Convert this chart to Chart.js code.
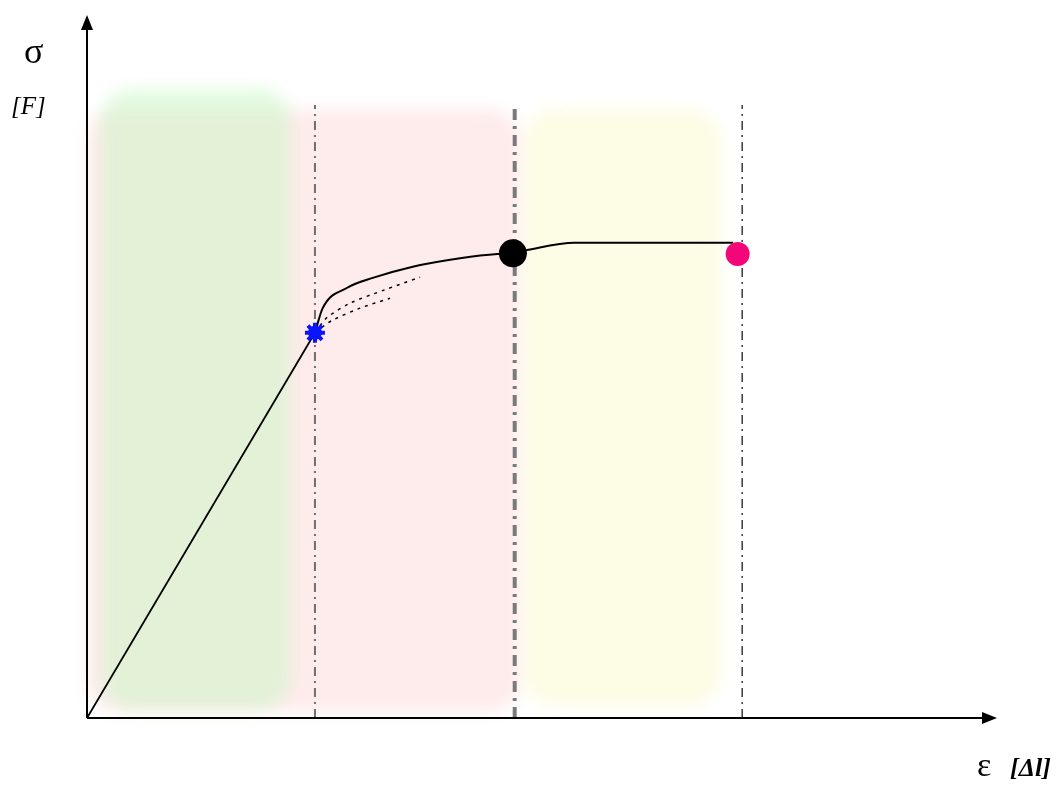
<!DOCTYPE html>
<html lang="en">
<head>
    <meta charset="UTF-8">
    <title>Stress-strain diagram</title>
    <style>
        body { margin: 0; background: #fff; }
        #wrap { width: 1059px; height: 785px; }
    </style>
    <script src="https://cdn.jsdelivr.net/npm/chart.js"></script>
</head>
<body>
    <div id="wrap"><canvas id="ssChart" width="1059" height="785"></canvas></div>

    <script>
        // Axis units: 0..100 on both axes (no ticks shown in the picture)
        const elasticX = [0, 25.05];
        const elasticY = [0, 54.8];

        const plasticX = [25.05, 25.9, 28.6, 31.4, 35.8, 41.0, 45.1, 46.8, 48.5, 53.6, 71.0];
        const plasticY = [54.8, 58.3, 61.2, 62.6, 64.2, 65.4, 66.0, 66.1, 66.6, 67.6, 67.6];

        const dotted1X = [25.6, 26.4, 28.9, 32.7, 36.6];
        const dotted1Y = [55.8, 57.0, 59.0, 60.9, 62.7];
        const dotted2X = [25.8, 27.0, 30.0, 33.3];
        const dotted2Y = [55.6, 56.6, 58.3, 59.7];

        // markers: yield, ultimate, fracture
        const yieldPt = { x: 25.05, y: 54.8 };
        const ultimatePt = { x: 46.8, y: 66.1 };
        const fracturePt = { x: 71.5, y: 66.0 };

        // vertical boundaries between zones
        const boundX = [25.05, 47.0, 72.0];
        const boundTop = 87.2;

        // stippled background zones [x0, x1, y0, y1]
        const zonePink = [0, 47.6, 1.0, 86.5];
        const zoneGreen = [1.6, 22.3, 1.2, 89.5];
        const zoneYellow = [48.1, 69.6, 1.8, 86.5];

        const toPts = (xs, ys) => xs.map((x, i) => ({ x: x, y: ys[i] }));

        const zonesPlugin = {
            id: 'zones',
            beforeDatasetsDraw(chart) {
                const { ctx, scales: { x, y } } = chart;
                const zones = [
                    [zonePink, 'rgba(252, 210, 210, 0.45)'],
                    [zoneGreen, 'rgba(200, 248, 195, 0.5)'],
                    [zoneYellow, 'rgba(252, 250, 205, 0.55)']
                ];
                ctx.save();
                ctx.filter = 'blur(8px)';
                zones.forEach(([z, c]) => {
                    const px0 = x.getPixelForValue(z[0]);
                    const px1 = x.getPixelForValue(z[1]);
                    const py0 = y.getPixelForValue(z[3]);
                    const py1 = y.getPixelForValue(z[2]);
                    ctx.fillStyle = c;
                    ctx.beginPath();
                    ctx.roundRect(px0, py0, px1 - px0, py1 - py0, 30);
                    ctx.fill();
                });
                ctx.restore();
            }
        };

        const axesPlugin = {
            id: 'arrowAxes',
            afterDatasetsDraw(chart) {
                const { ctx, scales: { x, y } } = chart;
                const ox = x.getPixelForValue(0), oy = y.getPixelForValue(0);
                const xe = x.getPixelForValue(100), ye = y.getPixelForValue(100);
                ctx.save();
                ctx.strokeStyle = '#000';
                ctx.fillStyle = '#000';
                ctx.lineWidth = 2;
                ctx.beginPath();
                ctx.moveTo(ox, oy); ctx.lineTo(xe - 6, oy);
                ctx.moveTo(ox, oy); ctx.lineTo(ox, ye + 6);
                ctx.stroke();
                // arrow heads
                ctx.beginPath();
                ctx.moveTo(xe, oy); ctx.lineTo(xe - 15, oy - 6); ctx.lineTo(xe - 15, oy + 6); ctx.closePath();
                ctx.fill();
                ctx.beginPath();
                ctx.moveTo(ox, ye); ctx.lineTo(ox - 6, ye + 15); ctx.lineTo(ox + 6, ye + 15); ctx.closePath();
                ctx.fill();
                // axis symbols
                ctx.textBaseline = 'alphabetic';
                ctx.font = '36px "Liberation Serif"';
                ctx.fillText('σ', 24, 63);
                ctx.font = 'italic 25px "Liberation Serif"';
                ctx.fillText('[F]', 11, 114);
                ctx.font = '34px "Liberation Serif"';
                ctx.fillText('ε', 977, 776);
                ctx.font = 'italic bold 26px "Liberation Serif"';
                ctx.fillText('[Δl]', 1010, 776);
                ctx.restore();
            }
        };

        const vline = (xv, color, width, dash) => ({
            data: [{ x: xv, y: 0 }, { x: xv, y: boundTop }],
            showLine: true,
            borderColor: color,
            borderWidth: width,
            borderDash: dash,
            pointRadius: 0
        });

        // datasets listed first are painted on top
        const ctx = document.getElementById('ssChart').getContext('2d');
        new Chart(ctx, {
            type: 'scatter',
            data: {
                datasets: [
                    {
                        data: [ultimatePt],
                        pointStyle: 'circle', pointRadius: 14, borderWidth: 0, backgroundColor: '#000'
                    },
                    {
                        data: [fracturePt],
                        pointStyle: 'circle', pointRadius: 12, borderWidth: 0, backgroundColor: '#f2067a'
                    },
                    {
                        data: [yieldPt],
                        pointStyle: 'star', pointRadius: 10, borderColor: '#0a14ff', borderWidth: 4,
                        backgroundColor: '#0a14ff'
                    },
                    {
                        data: [yieldPt],
                        pointStyle: 'circle', pointRadius: 7, borderWidth: 0, backgroundColor: '#0a14ff'
                    },
                    {
                        data: toPts(elasticX, elasticY),
                        showLine: true, borderColor: '#000', borderWidth: 1.8, pointRadius: 0
                    },
                    {
                        data: toPts(plasticX, plasticY),
                        showLine: true, borderColor: '#000', borderWidth: 2, pointRadius: 0,
                        cubicInterpolationMode: 'monotone'
                    },
                    {
                        data: toPts(dotted1X, dotted1Y),
                        showLine: true, borderColor: '#000', borderWidth: 1.5, borderDash: [3, 5],
                        pointRadius: 0, tension: 0.3
                    },
                    {
                        data: toPts(dotted2X, dotted2Y),
                        showLine: true, borderColor: '#000', borderWidth: 1.5, borderDash: [3, 5],
                        pointRadius: 0, tension: 0.3
                    },
                    vline(boundX[0], '#6f6f6f', 2, [9, 5, 2, 5]),
                    vline(boundX[1], '#7a7a7a', 4, [11, 6, 3, 6]),
                    vline(boundX[2], '#3a3a3a', 1.5, [9, 5, 2, 5])
                ]
            },
            options: {
                responsive: false,
                animation: false,
                layout: { padding: { left: 87, right: 62, top: 15, bottom: 67 } },
                scales: {
                    x: { type: 'linear', min: 0, max: 100, display: false },
                    y: { type: 'linear', min: 0, max: 100, display: false }
                },
                plugins: {
                    legend: { display: false },
                    tooltip: { enabled: false }
                }
            },
            plugins: [zonesPlugin, axesPlugin]
        });
    </script>
</body>
</html>
